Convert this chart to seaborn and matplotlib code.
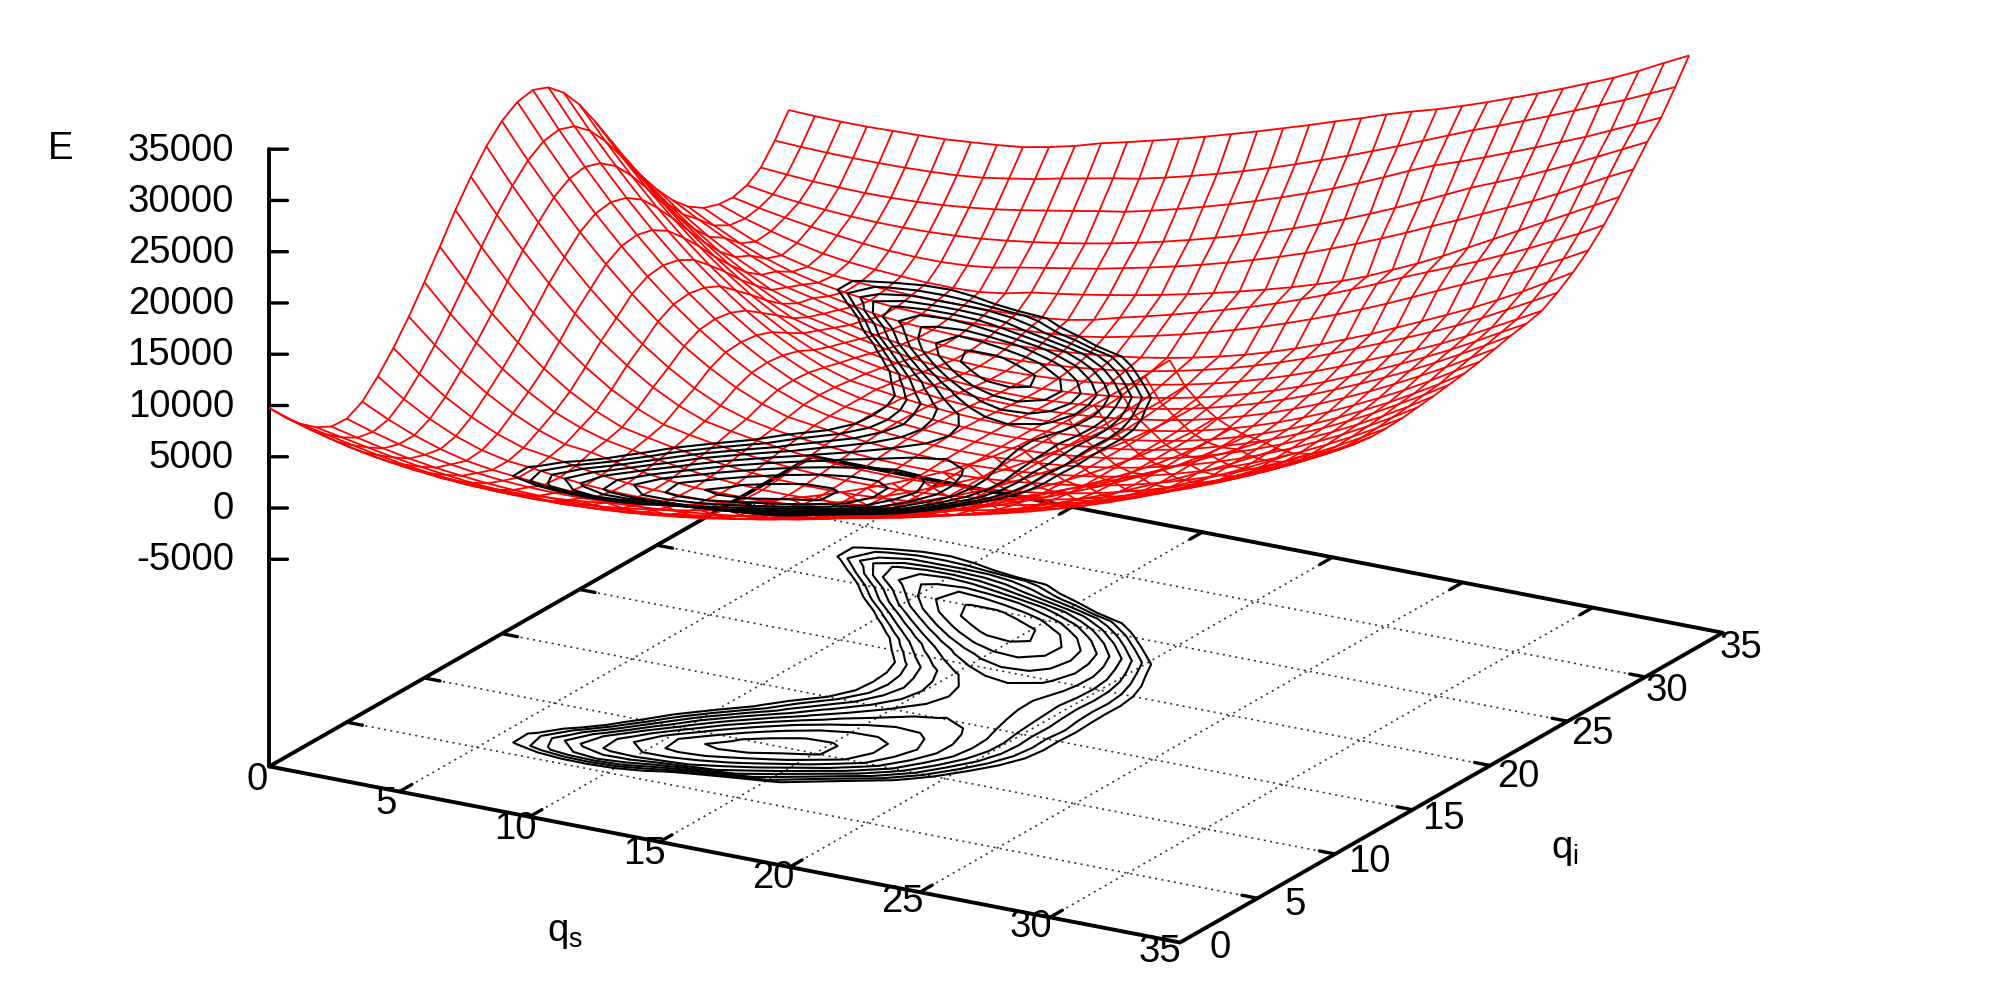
import numpy as np
import matplotlib
matplotlib.use("Agg")
import matplotlib.pyplot as plt
import seaborn as sns

# mesh positions along each axis
qs_grid = list(range(0, 23)) + [22.97, 23.94, 24.91, 25.88, 26.85, 27.82, 28.79, 29.76, 30.73, 31.7, 32.67, 33.64, 34.6]
qi_grid = list(range(0, 30)) + [29.9, 30.8, 31.7, 32.6, 33.5]

# energy, one list per qi mesh line, left to right in qs
e00 = [9760,8900,8150,7500,7000,6650,6400,6230,6130,6110,6170,6320,6550,6860,7240,7680,8180,8740,9350,10020,10740,11510,12340,13220,14160,15150,16210,17400,18700,20200,21900,23700,25600,27500,29400,31400]
e01 = [8000,7250,6600,6050,5620,5280,5020,4850,4760,4750,4820,4970,5200,5500,5860,6280,6760,7290,7870,8500,9180,9910,10690,11520,12400,13340,14330,15380,16700,18000,19400,20900,22500,24200,26000,28000]
e02 = [6500,5950,5400,4900,4480,4130,3860,3680,3580,3560,3610,3740,3950,4220,4550,4940,5380,5870,6420,7010,7650,8340,9080,9870,10700,11590,12530,13620,14800,16050,17400,18850,20300,21900,23600,25400]
e03 = [5300,4800,4300,3820,3420,3100,2820,2630,2530,2500,2540,2660,2850,3100,3410,3770,4190,4650,5170,5730,6340,7000,7700,8450,9250,10100,11000,11950,13050,14200,15400,16700,18100,19600,21300,23200]
e04 = [4500,3900,3350,2850,2450,2150,1900,1750,1680,1680,1740,1860,2040,2280,2580,2930,3330,3780,4270,4810,5390,6020,6700,7420,8190,9010,9880,10800,11770,12800,13900,15100,16400,17800,19500,21300]
e05 = [4400,3600,2900,2350,1900,1550,1300,1150,1090,1100,1170,1290,1460,1680,1950,2270,2640,3060,3530,4050,4620,5230,5890,6600,7350,8150,9000,9900,10850,11850,12900,14000,15200,16600,18100,19700]
e06 = [5200,3950,2900,2050,1400,1000,750,530,395,350,420,640,930,1220,1560,1930,2350,2810,3310,3860,4440,5070,5740,6450,7210,8000,8840,9720,10640,11610,12610,13660,14750,15880,17060,18300]
e07 = [6800,5080,3630,2440,1560,1000,740,395,150,0,-50,-20,60,200,400,650,980,1370,1800,2290,2820,3410,4040,4720,5450,6230,7060,7940,8860,9840,10860,11930,13050,14220,15440,16700]
e08 = [8700,6680,4920,3450,2280,1420,1040,610,220,-60,-225,-280,-250,-160,-10,200,470,800,1190,1620,2110,2640,3230,3860,4550,5280,6070,6900,7790,8720,9710,10740,11830,12960,14150,15400]
e09 = [10900,8630,6630,4890,3440,2260,1400,1110,580,140,-180,-375,-440,-410,-325,-185,15,270,580,960,1390,1870,2410,3010,3660,4370,5130,5950,6830,7760,8750,9790,10880,12040,13250,14500]
e10 = [13400,10800,8470,6420,4660,3190,2150,1400,950,480,100,-190,-380,-480,-495,-430,-290,-80,200,550,980,1450,1990,2570,3210,3910,4650,5460,6310,7220,8180,9200,10270,11390,12570,13800]
e11 = [16000,13100,10470,8130,6070,4330,2900,1820,1290,800,390,70,-175,-340,-420,-420,-350,-200,20,310,680,1100,1570,2100,2690,3350,4060,4840,5670,6570,7520,8540,9610,10750,11950,13200]
e12 = [18700,15590,12720,10140,7850,5860,4150,2770,1710,1200,760,390,100,-120,-255,-315,-300,-220,-60,160,470,840,1250,1730,2280,2900,3590,4340,5170,6070,7030,8070,9170,10340,11590,12900]
e13 = [21100,17870,14910,12170,9710,7520,5630,3990,2670,1670,1180,760,420,160,-30,-140,-180,-145,-40,135,380,700,1050,1475,1980,2560,3220,3960,4780,5670,6650,7700,8830,10040,11330,12700]
e14 = [23200,19840,16750,13860,11260,8910,6850,5060,3530,2320,1500,1010,670,400,190,45,-35,-45,15,150,370,660,1000,1390,1870,2430,3080,3810,4620,5520,6510,7580,8730,9970,11300,12700]
e15 = [24800,21440,18340,15440,12800,10380,8190,6270,4620,3220,2120,1330,980,640,380,190,80,40,80,200,390,670,1000,1390,1870,2440,3090,3820,4640,5550,6550,7620,8790,10040,11380,12800]
e16 = [25800,22450,19300,16380,13700,11230,9000,7020,5300,3800,2600,1650,1050,800,510,300,160,105,120,220,400,640,1000,1390,1880,2450,3110,3860,4690,5620,6630,7730,8910,10190,11550,13000]
e17 = [26100,22730,19580,16640,13930,11450,9200,7200,5430,3940,2700,1740,1090,820,555,338,198,131,140,233,409,669,996,1395,1884,2463,3132,3891,4740,5680,6708,7827,9036,10335,11724,13200]
e18 = [25500,22190,19080,16190,13540,11100,8900,6950,5250,3760,2580,1640,1050,800,510,300,170,110,135,240,420,680,1000,1400,1900,2490,3180,3960,4830,5800,6860,8020,9270,10620,12000,13450]
e19 = [24100,20890,17930,15150,12590,10260,8190,6300,4690,3320,2220,1430,1060,700,420,220,100,60,100,210,400,670,1000,1410,1910,2520,3220,4030,4930,5930,7030,8220,9450,10800,12200,13700]
e20 = [22100,19010,16140,13490,11070,8870,6910,5210,3740,2570,1800,1230,800,460,205,35,-50,-50,25,175,400,700,1060,1500,2050,2690,3430,4270,5210,6240,7370,8550,9800,11150,12600,14000]
e21 = [19600,16720,14040,11590,9370,7380,5610,4110,2850,2000,1430,930,525,210,-20,-155,-200,-160,-40,160,440,800,1230,1740,2350,3050,3830,4710,5680,6740,7850,9050,10300,11600,13000,14400]
e22 = [16900,14230,11760,9540,7510,5740,4210,2960,2250,1550,990,540,180,-90,-260,-335,-320,-220,-45,215,555,980,1470,2050,2710,3460,4290,5200,6200,7250,8350,9500,10750,12050,13400,14800]
e23 = [14200,11770,9550,7570,5810,4300,3010,2200,1660,1060,560,160,-140,-340,-440,-440,-365,-210,20,330,715,1180,1720,2340,3050,3830,4690,5630,6650,7700,8800,9950,11150,12450,13800,15100]
e24 = [11700,9490,7540,5780,4270,3010,2200,1680,1070,560,150,-160,-370,-480,-495,-420,-270,-40,270,666,1120,1640,2230,2890,3630,4430,5320,6270,7300,8300,9300,10400,11600,12900,14200,15500]
e25 = [9500,7570,5860,4380,3130,2400,1830,1190,650,225,-95,-310,-415,-420,-350,-210,0,285,640,1080,1610,2200,2850,3580,4370,5230,6160,7150,8150,9150,10200,11300,12500,13800,15100,16400]
e26 = [7600,6200,4900,3650,2600,1800,1170,660,220,-25,-160,-250,-225,-145,-10,175,410,700,1070,1520,2040,2640,3300,4050,4860,5750,6720,7700,8800,9900,11000,12150,13400,14700,16100,17500]
e27 = [6100,4750,3500,2500,1700,1120,690,375,167,63,50,90,200,360,560,790,1210,1750,2330,2960,3640,4370,5150,5980,6860,7790,8770,9800,10900,12000,13100,14200,15200,16300,17500,18800]
e28 = [5100,3900,2800,1950,1330,970,740,590,510,510,500,520,600,740,1050,1550,2250,2870,3530,4230,4970,5750,6580,7460,8390,9370,10400,11480,12500,13500,14500,15600,16700,17900,19100,20400]
e29 = [4600,3700,2950,2300,1750,1400,1170,1000,880,850,950,1300,1880,2250,2650,3100,3580,4100,4660,5260,5900,6580,7300,8060,8860,9800,10900,12000,13200,14500,15800,17100,18400,19700,21000,22300]
e30 = [4490,3950,3500,3100,2750,2450,2230,2120,2120,2250,2550,3050,3500,3950,4400,4950,5500,6100,6750,7450,8200,9000,9850,10750,11700,12700,13750,14850,15900,17000,18100,19200,20400,21700,23000,24200]
e31 = [4900,4500,4200,3980,3820,3730,3720,3780,3900,4100,4400,4750,5150,5600,6100,6650,7250,7900,8600,9350,10150,11000,11900,12850,13850,14900,16000,17150,18300,19300,20300,21400,22500,23700,24900,26100]
e32 = [5850,5650,5480,5380,5330,5360,5450,5620,5870,6190,6590,7050,7500,7980,8400,9000,9650,10350,11100,11900,12750,13650,14600,15600,16650,17750,18750,19600,20500,21450,22400,23400,24400,25500,26600,27700]
e33 = [7700,7580,7500,7460,7470,7510,7600,7750,8000,8420,8850,9400,9900,10400,10850,11450,12100,12800,13550,14350,15200,16100,17000,17950,18900,19900,20900,21900,22800,23750,24700,25700,26700,27700,28800,29900]
e34 = [9900,9800,9750,9750,9830,9900,10000,10200,10420,10700,11200,11800,12550,13150,13800,14450,15150,15900,16650,17450,18250,19100,19900,20750,21500,22200,23000,23850,24750,25650,26600,27600,28600,29750,31000,32200]

levels = [-400, -250, -100, 50, 200, 350, 500, 650, 800]
z_ticks = [-5000, 0, 5000, 10000, 15000, 20000, 25000, 30000, 35000]
q_ticks = [0, 5, 10, 15, 20, 25, 30, 35]

energy = np.array([e00, e01, e02, e03, e04, e05, e06, e07, e08, e09, e10, e11, e12, e13, e14, e15, e16, e17,
                   e18, e19, e20, e21, e22, e23, e24, e25, e26, e27, e28, e29, e30, e31, e32, e33, e34], dtype=float)
qs, qi = np.meshgrid(qs_grid, qi_grid)
base = -25200

sns.set_theme(style="white")
plt.rcParams["font.family"] = ["Liberation Sans", "DejaVu Sans"]
plt.rcParams["mathtext.fontset"] = "custom"
plt.rcParams["mathtext.rm"] = "Liberation Sans"
plt.rcParams["mathtext.it"] = "Liberation Sans"

fig = plt.figure(figsize=(20, 10), dpi=100)
ax = fig.add_axes([-31 / 2000, -0.418, 1, 2], projection="3d", proj_type="ortho")
ax.computed_zorder = False
ax.view_init(elev=19.4, azim=-59.8)
ax.set_xlim(0, 35, view_margin=0)
ax.set_ylim(0, 35, view_margin=0)
ax.set_zlim(base, 35000, view_margin=0)
ax.set_box_aspect((35 * 30.08, 35 * 30.8, 60200 * 0.01086), zoom=0.798)
ax.set_axis_off()

# dotted grid on the base plane
dot = dict(color="#333333", lw=1.2, ls=(0, (1.2, 2.6)), zorder=1)
for t in q_ticks[1:-1]:
    ax.plot([t, t], [0, 35], [base, base], **dot)
    ax.plot([0, 35], [t, t], [base, base], **dot)

# box and ticks
axis = dict(color="black", lw=2.8, zorder=2, solid_capstyle="round")
ax.plot([0, 35, 35, 0, 0], [0, 0, 35, 35, 0], [base] * 5, **axis)
ax.plot([0, 0], [0, 0], [base, 35000], **axis)
tick = dict(color="black", lw=2.4, zorder=2)
for t in q_ticks[1:-1]:
    ax.plot([t, t], [0, 0.8], [base, base], **tick)
    ax.plot([t, t], [35, 34.2], [base, base], **tick)
    ax.plot([35, 34.4], [t, t], [base, base], **tick)
    ax.plot([0, 0.6], [t, t], [base, base], **tick)
for z in z_ticks:
    ax.plot([0, 0.52], [0, 0.3], [z, z], **tick)

ax.plot_wireframe(qs, qi, energy, rstride=1, cstride=1, color="#ff0000", linewidth=1.3, zorder=3)
ax.contour(qs, qi, energy, levels=levels, colors="black", linewidths=1.5, linestyles="solid", zorder=4)
ax.contour(qs, qi, energy, levels=levels, colors="black", linewidths=1.5, linestyles="solid", offset=base, zorder=2)


def label(x, y, s, ha="center"):
    fig.text(x / 2000, 1 - y / 1000, s, ha=ha, va="center", fontsize=27.5, color="black")


for z in z_ticks:
    label(234, 509 - z / 5000 * 51.2, str(z), ha="right")
for t in q_ticks:
    label(257 + 25.8 * t, 780 + 4.9 * t, str(t))
    label(1220.5 + 14.87 * t, 948 - 8.57 * t, str(t))
label(61, 149, "E")
label(565, 933, r"$\mathrm{q}_{\mathrm{s}}$")
label(1565, 850, r"$\mathrm{q}_{\mathrm{i}}$")

fig.savefig("out.png", dpi=100)
